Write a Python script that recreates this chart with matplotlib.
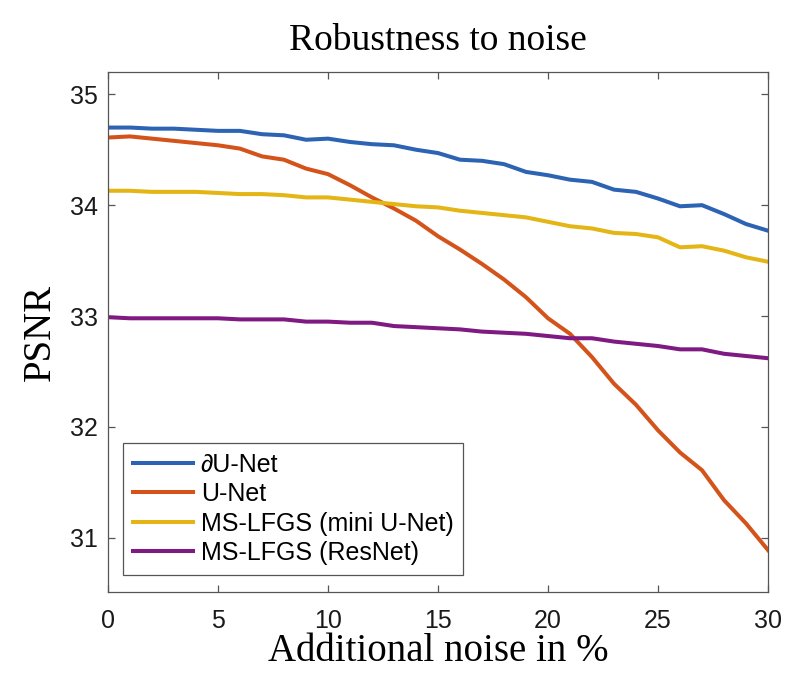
import numpy as np
import matplotlib
matplotlib.use("Agg")
import matplotlib.pyplot as plt

# noise levels in %
noise = np.arange(0, 31)

# PSNR values
dunet = [34.70, 34.70, 34.69, 34.69, 34.68, 34.67, 34.67, 34.64, 34.63, 34.59,
         34.60, 34.57, 34.55, 34.54, 34.50, 34.47, 34.41, 34.40, 34.37, 34.30,
         34.27, 34.23, 34.21, 34.14, 34.12, 34.06, 33.99, 34.00, 33.92, 33.83,
         33.77]
unet = [34.61, 34.62, 34.60, 34.58, 34.56, 34.54, 34.51, 34.44, 34.41, 34.33,
        34.28, 34.18, 34.07, 33.97, 33.86, 33.72, 33.60, 33.47, 33.33, 33.17,
        32.98, 32.84, 32.63, 32.39, 32.20, 31.97, 31.77, 31.61, 31.34, 31.13,
        30.89]
ms_mini = [34.13, 34.13, 34.12, 34.12, 34.12, 34.11, 34.10, 34.10, 34.09, 34.07,
           34.07, 34.05, 34.03, 34.01, 33.99, 33.98, 33.95, 33.93, 33.91, 33.89,
           33.85, 33.81, 33.79, 33.75, 33.74, 33.71, 33.62, 33.63, 33.59, 33.53,
           33.49]
ms_res = [32.99, 32.98, 32.98, 32.98, 32.98, 32.98, 32.97, 32.97, 32.97, 32.95,
          32.95, 32.94, 32.94, 32.91, 32.90, 32.89, 32.88, 32.86, 32.85, 32.84,
          32.82, 32.80, 32.80, 32.77, 32.75, 32.73, 32.70, 32.70, 32.66, 32.64,
          32.62]

labels = ["\u2202U-Net", "U-Net", "MS-LFGS (mini U-Net)", "MS-LFGS (ResNet)"]
colors = ["#2D63B3", "#D4531A", "#E3B515", "#7E1A82"]

sans = ["Liberation Sans", "DejaVu Sans"]
serif = ["Liberation Serif", "DejaVu Serif"]

fig = plt.figure(figsize=(8, 7), dpi=100)
ax = fig.add_axes([0.135, 0.154, 0.825, 0.743])

for ys, lab, c in zip([dunet, unet, ms_mini, ms_res], labels, colors):
    ax.plot(noise, ys, color=c, lw=2.9, label=lab)

ax.set_xlim(0, 30)
ax.set_ylim(30.51, 35.2)
ax.set_xticks([0, 5, 10, 15, 20, 25, 30])
ax.set_yticks([31, 32, 33, 34, 35])

for s in ax.spines.values():
    s.set_color("#555555")
    s.set_linewidth(0.9)
ax.tick_params(direction="in", top=True, right=True, length=5, width=0.9,
               color="#555555", labelsize=18)
ax.tick_params(axis="x", pad=12)
ax.tick_params(axis="y", pad=7)
for t in ax.get_xticklabels() + ax.get_yticklabels():
    t.set_family(sans)
    t.set_color("#1a1a1a")

ax.set_title("Robustness to noise", family=serif, fontsize=27, pad=16)
ax.set_xlabel("Additional noise in %", family=serif, fontsize=28, labelpad=0)
ax.set_ylabel("PSNR", family=serif, fontsize=28, labelpad=8)

leg = ax.legend(loc="lower left", bbox_to_anchor=(0.023, 0.033),
                prop={"family": sans, "size": 18}, fancybox=False,
                edgecolor="#555555", framealpha=1, handlelength=2.4,
                borderpad=0.4, labelspacing=0.22, handletextpad=0.3,
                borderaxespad=0)
leg.get_frame().set_linewidth(0.9)

fig.savefig("out.png", dpi=100)
